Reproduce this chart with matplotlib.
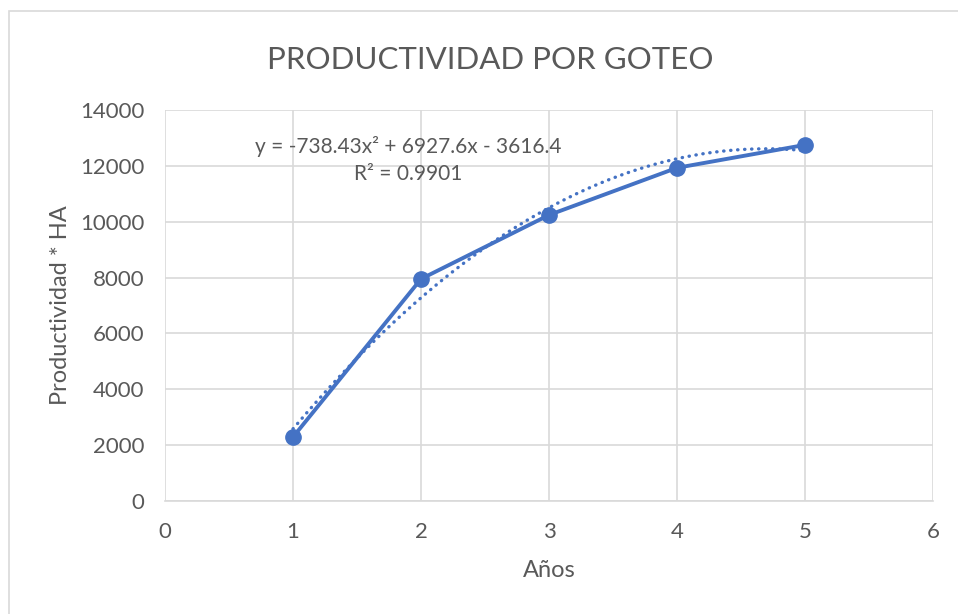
import numpy as np
import matplotlib
matplotlib.use("Agg")
import matplotlib.pyplot as plt
from matplotlib.patches import Rectangle

# data
years = [1, 2, 3, 4, 5]
productivity = [2290, 7950, 10240, 11930, 12750]
x_ticks = [0, 1, 2, 3, 4, 5, 6]
y_ticks = [0, 2000, 4000, 6000, 8000, 10000, 12000, 14000]
equation_label = "y = -738.43x² + 6927.6x - 3616.4"
r2_label = "R² = 0.9901"

plt.rcParams["font.family"] = ["Lato", "DejaVu Sans"]

blue = "#4472C4"
grey_text = "#595959"
grid_col = "#D9D9D9"

fig = plt.figure(figsize=(9.58, 6.14), dpi=100)
ax = fig.add_axes([165 / 958, 1 - 501 / 614, (933 - 165) / 958, (501 - 110) / 614])

# outer chart border
fig.patches.append(Rectangle((8.5 / 958, -0.1), 1.2, (614 - 11) / 614 + 0.1,
                             transform=fig.transFigure, fill=False,
                             edgecolor=grid_col, linewidth=1.2))

# polynomial trendline (order 2)
coef = np.polyfit(years, productivity, 2)
xs = np.linspace(years[0], years[-1], 200)
ax.plot(xs, np.polyval(coef, xs), color=blue, linewidth=2.4,
        linestyle=(0, (0.1, 2.0)), dash_capstyle="round", zorder=3)

# data series
ax.plot(years, productivity, color=blue, linewidth=2.8, marker="o",
        markersize=11, zorder=4)

ax.set_xlim(0, 6)
ax.set_ylim(0, 14000)
ax.set_xticks(x_ticks)
ax.set_yticks(y_ticks)
ax.grid(True, color=grid_col, linewidth=1.2)
ax.set_axisbelow(True)
for side in ["top", "right", "left"]:
    ax.spines[side].set_visible(False)
ax.spines["bottom"].set_color(grid_col)
ax.spines["bottom"].set_linewidth(1.2)
ax.tick_params(length=0, labelsize=16, colors=grey_text, pad=15)

ax.set_xlabel("Años", fontsize=17, color=grey_text, labelpad=13)
ax.set_ylabel("Productividad * HA", fontsize=17, color=grey_text, labelpad=6)

fig.text(490 / 958, 1 - 60 / 614, "PRODUCTIVIDAD POR GOTEO", fontsize=22.5,
         color=grey_text, ha="center", va="center")

ax.text(1.9, 12710, equation_label, fontsize=15, color=grey_text,
        ha="center", va="center")
ax.text(1.9, 11710, r2_label, fontsize=15, color=grey_text,
        ha="center", va="center")

plt.savefig("out.png", dpi=100)
